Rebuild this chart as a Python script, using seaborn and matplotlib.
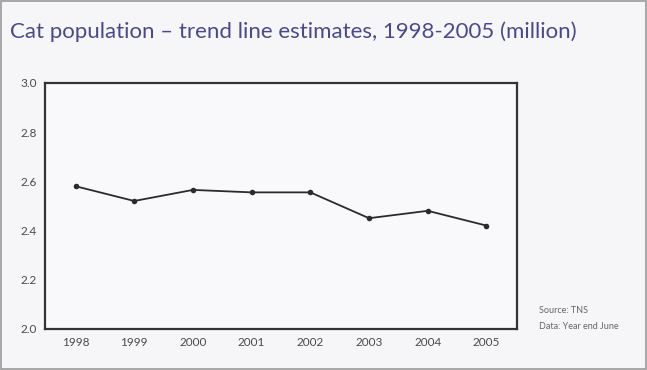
import pandas as pd
import matplotlib.pyplot as plt
import seaborn as sns

# Values (million cats)
years = ['1998', '1999', '2000', '2001', '2002', '2003', '2004', '2005']
cats = [2.58, 2.52, 2.565, 2.555, 2.555, 2.45, 2.48, 2.42]
y_ticks = [2.0, 2.2, 2.4, 2.6, 2.8, 3.0]

df = pd.DataFrame({'year': years, 'cats': cats})

sns.set_style('white')
plt.rcParams['font.family'] = ['Lato', 'DejaVu Sans']

fig = plt.figure(figsize=(6.47, 3.7), dpi=100, facecolor='#f6f6f8')
ax = fig.add_axes([0.0696, 0.111, 0.7294, 0.665])
ax.set_facecolor('#f9f9fb')

sns.lineplot(data=df, x='year', y='cats', ax=ax, color='#2b2b2b', linewidth=1.3,
             marker='o', markersize=4, markeredgewidth=0, sort=False)

ax.set_xlim(-0.52, len(years) - 0.48)
ax.set_ylim(2.0, 3.0)
ax.set_yticks(y_ticks)
ax.set_yticklabels([f'{v:.1f}' for v in y_ticks])
ax.set_xlabel('')
ax.set_ylabel('')
ax.tick_params(axis='both', length=0, labelsize=8.5, colors='#4a4a4a', pad=6)
for s in ax.spines.values():
    s.set_color('#333333')
    s.set_linewidth(1.6)

fig.text(0.016, 0.915, 'Cat population \u2013 trend line estimates, 1998-2005 (million)',
         fontsize=16, color='#4b4a86', ha='left', va='center')
fig.text(0.833, 0.162, 'Source: TNS', fontsize=6.5, color='#666666', ha='left', va='center')
fig.text(0.833, 0.118, 'Data: Year end June', fontsize=6.5, color='#666666', ha='left', va='center')

# thin frame around the whole picture
fig.patches.append(plt.Rectangle((0.002, 0.003), 0.996, 0.994, transform=fig.transFigure,
                                 fill=False, edgecolor='#9a9a9a', linewidth=1.2))

fig.savefig('out.png', dpi=100, facecolor=fig.get_facecolor())
